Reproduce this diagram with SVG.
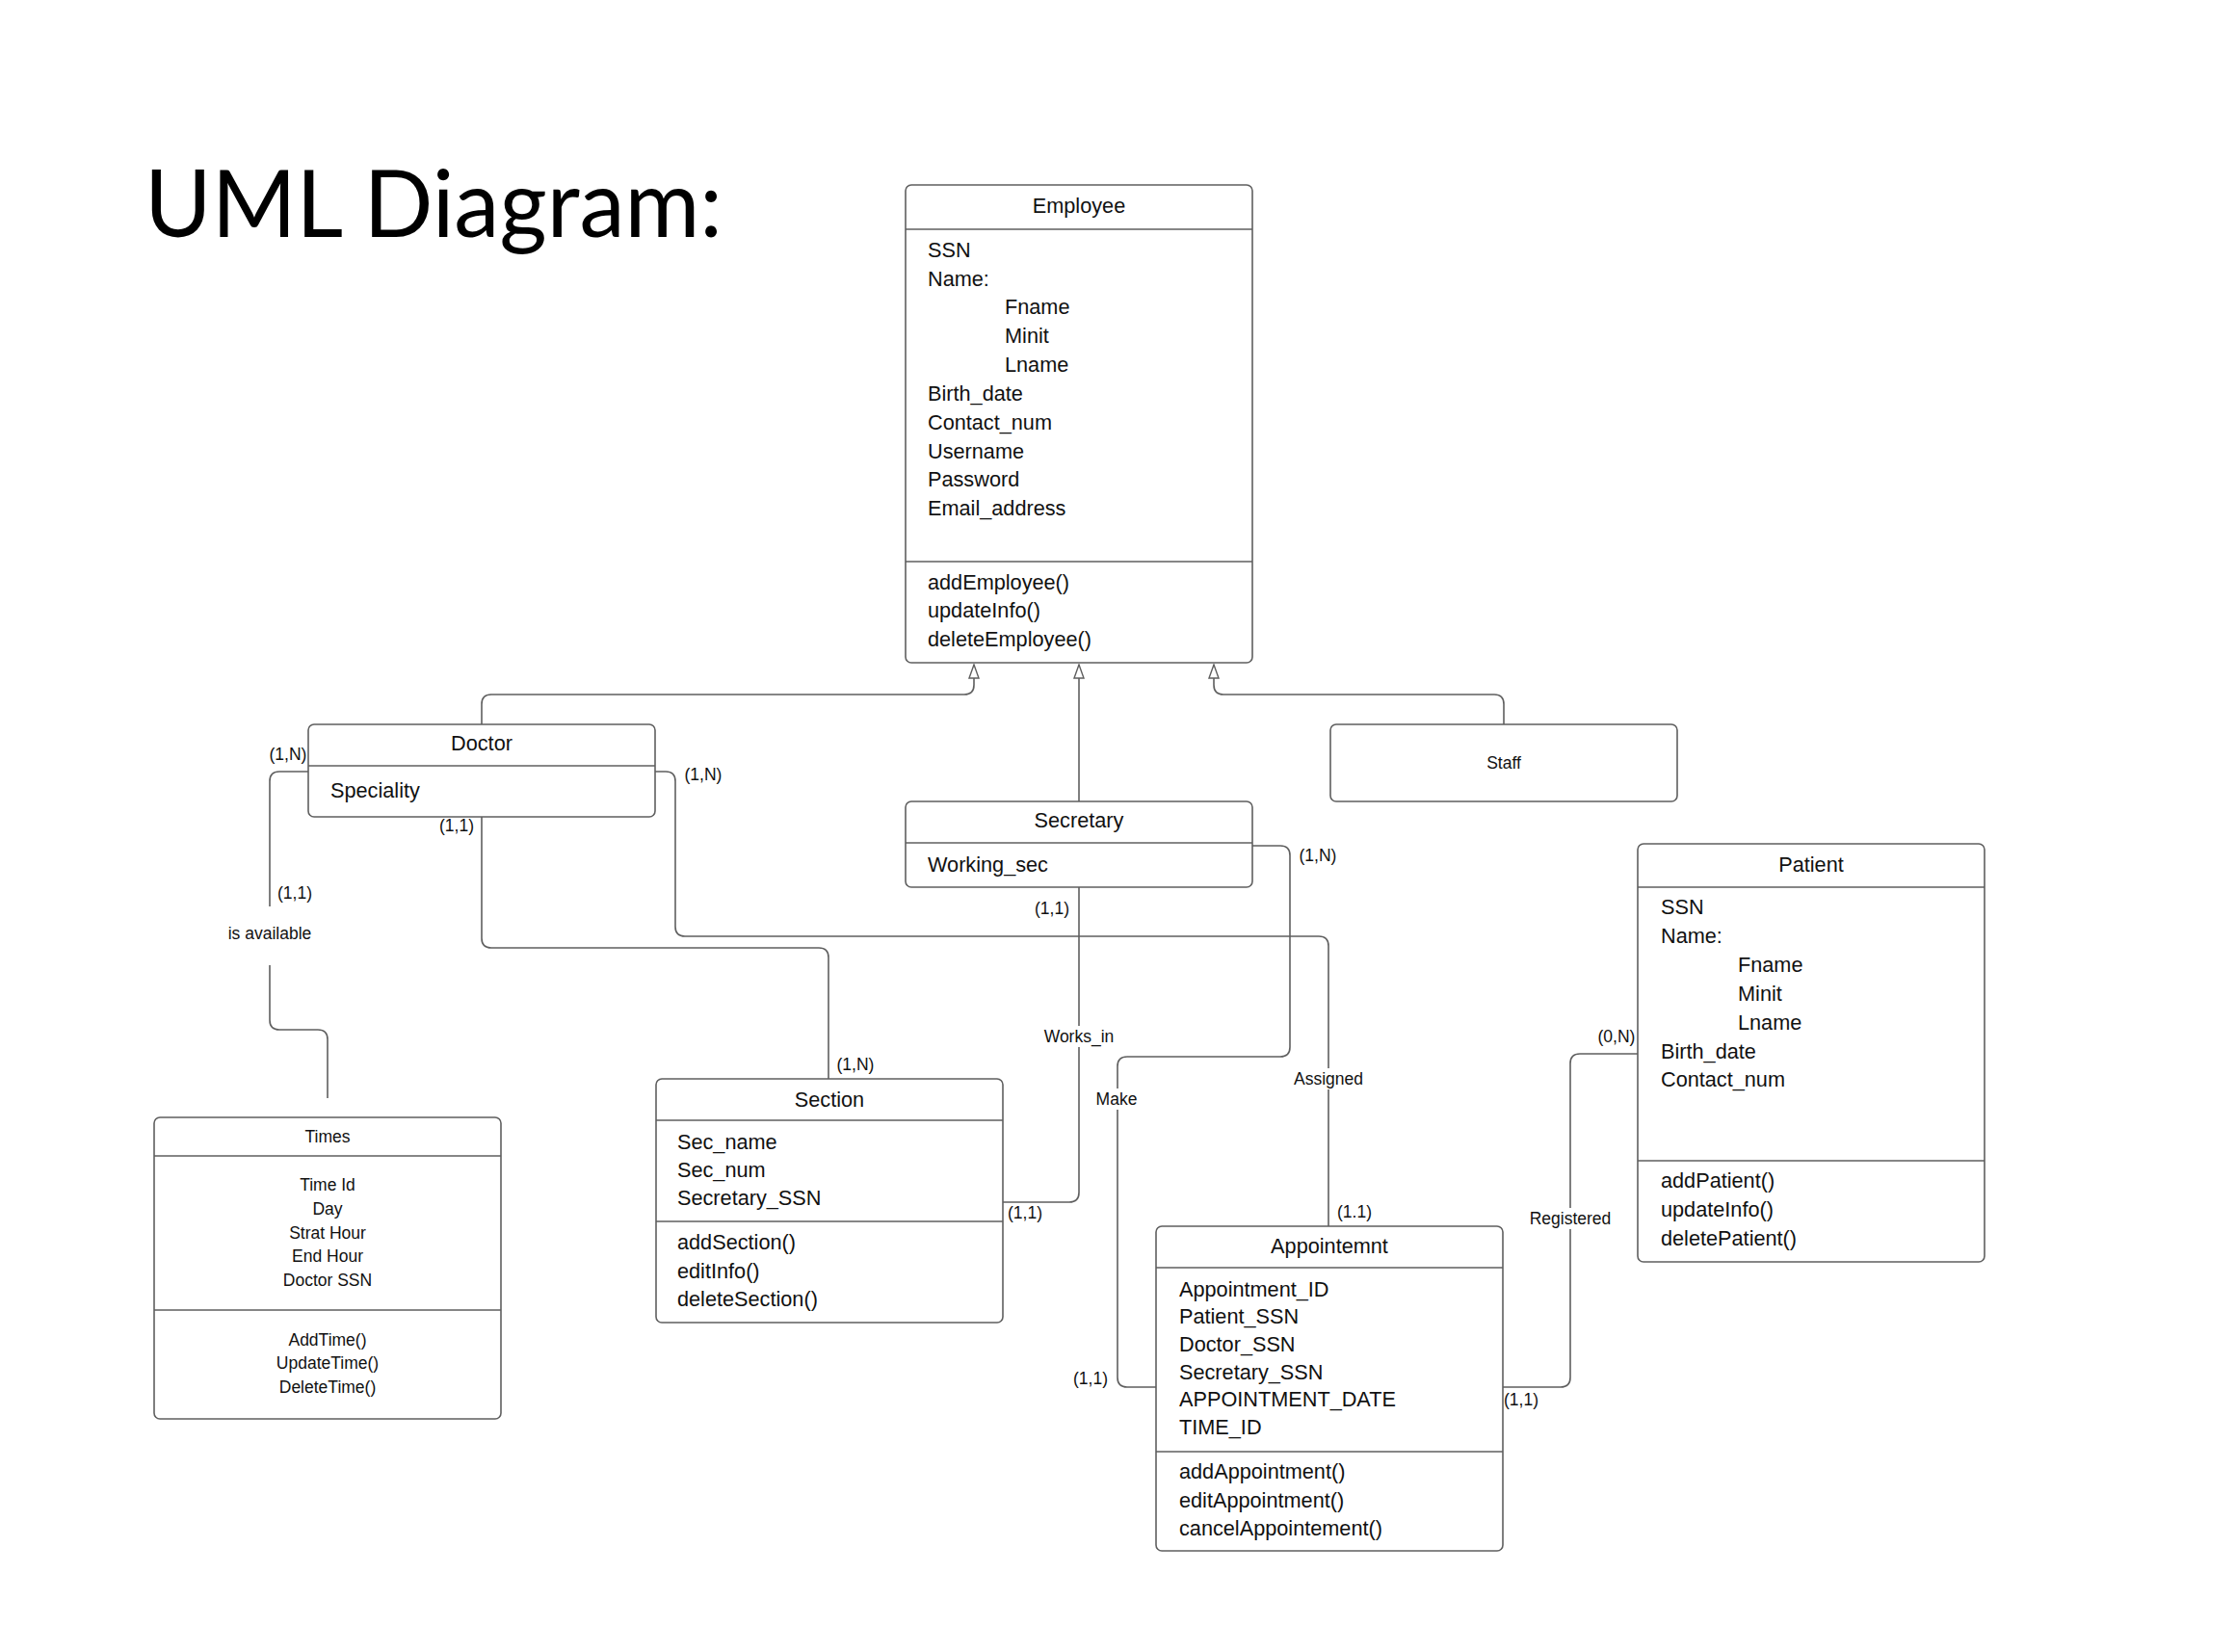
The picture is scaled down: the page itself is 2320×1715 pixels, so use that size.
<svg xmlns="http://www.w3.org/2000/svg" width="2320" height="1715" viewBox="0 0 2320 1715">
<style>
.bg{fill:#fff}
.box{fill:#fff;stroke:#5f5f5f;stroke-width:1.6}
.div{stroke:#5f5f5f;stroke-width:1.6;fill:none}
.con{fill:none;stroke:#5f5f5f;stroke-width:1.6}
.t{font-family:"Liberation Sans",Arial,sans-serif;font-size:21.7px;fill:#111}
.c{text-anchor:middle}
.s{font-family:"Liberation Sans",Arial,sans-serif;font-size:17.5px;fill:#111}
.lblbg{fill:#fff}
.title{font-family:"Lato","Open Sans",sans-serif;font-weight:400;font-size:96px;fill:#000}
</style>
<defs>
<marker id="gen" viewBox="0 0 16 12" refX="15" refY="6" markerWidth="16" markerHeight="12" markerUnits="userSpaceOnUse" orient="auto">
<path d="M1,1 L15,6 L1,11 Z" fill="#fff" stroke="#5f5f5f" stroke-width="1.4"/>
</marker>
</defs>
<rect class="bg" x="0" y="0" width="2320" height="1715"/>
<text class="title" x="150" y="246" textLength="600" lengthAdjust="spacingAndGlyphs">UML Diagram:</text>

<g id="connectors">
<path class="con" d="M500,752 V731 Q500,721 510,721 H1001 Q1011,721 1011,711 V690" marker-end="url(#gen)"/>
<path class="con" d="M1120,832 V690" marker-end="url(#gen)"/>
<path class="con" d="M1561,752 V731 Q1561,721 1551,721 H1270 Q1260,721 1260,711 V690" marker-end="url(#gen)"/>
<path class="con" d="M320,801 H290 Q280,801 280,811 V941"/>
<path class="con" d="M280,1002 V1059 Q280,1069 290,1069 H330 Q340,1069 340,1079 V1140"/>
<path class="con" d="M500,848 V974 Q500,984 510,984 H850 Q860,984 860,994 V1120"/>
<path class="con" d="M680,801 H691 Q701,801 701,811 V962 Q701,972 711,972 H1369 Q1379,972 1379,982 V1273"/>
<path class="con" d="M1120,920 V1238 Q1120,1248 1110,1248 H1040"/>
<path class="con" d="M1300,878 H1329 Q1339,878 1339,888 V1087 Q1339,1097 1329,1097 H1170 Q1160,1097 1160,1107 V1430 Q1160,1440 1170,1440 H1200"/>
<path class="con" d="M1700,1094 H1640 Q1630,1094 1630,1104 V1430 Q1630,1440 1620,1440 H1560"/>
<rect class="lblbg" x="1082" y="1065" width="76" height="22"/>
<rect class="lblbg" x="1136" y="1130" width="46" height="22"/>
<rect class="lblbg" x="1342" y="1109" width="75" height="22"/>
<rect class="lblbg" x="1586" y="1254" width="88" height="22"/>
<text class="s c" x="280" y="975">is available</text>
<text class="s c" x="1120" y="1082">Works_in</text>
<text class="s c" x="1159" y="1147">Make</text>
<text class="s c" x="1379" y="1126">Assigned</text>
<text class="s c" x="1630" y="1271">Registered</text>
<text class="s c" x="299" y="789">(1,N)</text>
<text class="s c" x="306" y="933">(1,1)</text>
<text class="s c" x="474" y="863">(1,1)</text>
<text class="s c" x="888" y="1111">(1,N)</text>
<text class="s c" x="730" y="810">(1,N)</text>
<text class="s c" x="1406" y="1264">(1.1)</text>
<text class="s c" x="1092" y="949">(1,1)</text>
<text class="s c" x="1064" y="1265">(1,1)</text>
<text class="s c" x="1368" y="894">(1,N)</text>
<text class="s c" x="1132" y="1437">(1,1)</text>
<text class="s c" x="1678" y="1082">(0,N)</text>
<text class="s c" x="1579" y="1459">(1,1)</text>
</g>

<g id="employee">
<rect class="box" x="940" y="192" width="360" height="496" rx="6"/>
<path class="div" d="M940,238 H1300 M940,583 H1300"/>
<text class="t c" x="1120" y="221">Employee</text>
<text class="t" x="963" y="267">SSN</text>
<text class="t" x="963" y="297">Name:</text>
<text class="t" x="1043" y="326">Fname</text>
<text class="t" x="1043" y="356">Minit</text>
<text class="t" x="1043" y="386">Lname</text>
<text class="t" x="963" y="416">Birth_date</text>
<text class="t" x="963" y="446">Contact_num</text>
<text class="t" x="963" y="476">Username</text>
<text class="t" x="963" y="505">Password</text>
<text class="t" x="963" y="535">Email_address</text>
<text class="t" x="963" y="612">addEmployee()</text>
<text class="t" x="963" y="641">updateInfo()</text>
<text class="t" x="963" y="671">deleteEmployee()</text>
</g>

<g id="doctor">
<rect class="box" x="320" y="752" width="360" height="96" rx="6"/>
<path class="div" d="M320,795 H680"/>
<text class="t c" x="500" y="779">Doctor</text>
<text class="t" x="343" y="828">Speciality</text>
</g>

<g id="staff">
<rect class="box" x="1381" y="752" width="360" height="80" rx="6"/>
<text class="s c" x="1561" y="798">Staff</text>
</g>

<g id="secretary">
<rect class="box" x="940" y="832" width="360" height="89" rx="6"/>
<path class="div" d="M940,875 H1300"/>
<text class="t c" x="1120" y="859">Secretary</text>
<text class="t" x="963" y="905">Working_sec</text>
</g>

<g id="patient">
<rect class="box" x="1700" y="876" width="360" height="434" rx="6"/>
<path class="div" d="M1700,921 H2060 M1700,1205 H2060"/>
<text class="t c" x="1880" y="905">Patient</text>
<text class="t" x="1724" y="949">SSN</text>
<text class="t" x="1724" y="979">Name:</text>
<text class="t" x="1804" y="1009">Fname</text>
<text class="t" x="1804" y="1039">Minit</text>
<text class="t" x="1804" y="1069">Lname</text>
<text class="t" x="1724" y="1099">Birth_date</text>
<text class="t" x="1724" y="1128">Contact_num</text>
<text class="t" x="1724" y="1233">addPatient()</text>
<text class="t" x="1724" y="1263">updateInfo()</text>
<text class="t" x="1724" y="1293">deletePatient()</text>
</g>

<g id="section">
<rect class="box" x="681" y="1120" width="360" height="253" rx="6"/>
<path class="div" d="M681,1163 H1041 M681,1268 H1041"/>
<text class="t c" x="861" y="1149">Section</text>
<text class="t" x="703" y="1193">Sec_name</text>
<text class="t" x="703" y="1222">Sec_num</text>
<text class="t" x="703" y="1251">Secretary_SSN</text>
<text class="t" x="703" y="1297">addSection()</text>
<text class="t" x="703" y="1327">editInfo()</text>
<text class="t" x="703" y="1356">deleteSection()</text>
</g>

<g id="appointment">
<rect class="box" x="1200" y="1273" width="360" height="337" rx="6"/>
<path class="div" d="M1200,1316 H1560 M1200,1507 H1560"/>
<text class="t c" x="1380" y="1301">Appointemnt</text>
<text class="t" x="1224" y="1346">Appointment_ID</text>
<text class="t" x="1224" y="1374">Patient_SSN</text>
<text class="t" x="1224" y="1403">Doctor_SSN</text>
<text class="t" x="1224" y="1432">Secretary_SSN</text>
<text class="t" x="1224" y="1460">APPOINTMENT_DATE</text>
<text class="t" x="1224" y="1489">TIME_ID</text>
<text class="t" x="1224" y="1535">addAppointment()</text>
<text class="t" x="1224" y="1565">editAppointment()</text>
<text class="t" x="1224" y="1594">cancelAppointement()</text>
</g>

<g id="times">
<rect class="box" x="160" y="1160" width="360" height="313" rx="6"/>
<path class="div" d="M160,1200 H520 M160,1360 H520"/>
<text class="s c" x="340" y="1186">Times</text>
<text class="s c" x="340" y="1236">Time Id</text>
<text class="s c" x="340" y="1261">Day</text>
<text class="s c" x="340" y="1286">Strat Hour</text>
<text class="s c" x="340" y="1310">End Hour</text>
<text class="s c" x="340" y="1335">Doctor SSN</text>
<text class="s c" x="340" y="1397">AddTime()</text>
<text class="s c" x="340" y="1421">UpdateTime()</text>
<text class="s c" x="340" y="1446">DeleteTime()</text>
</g>
</svg>
